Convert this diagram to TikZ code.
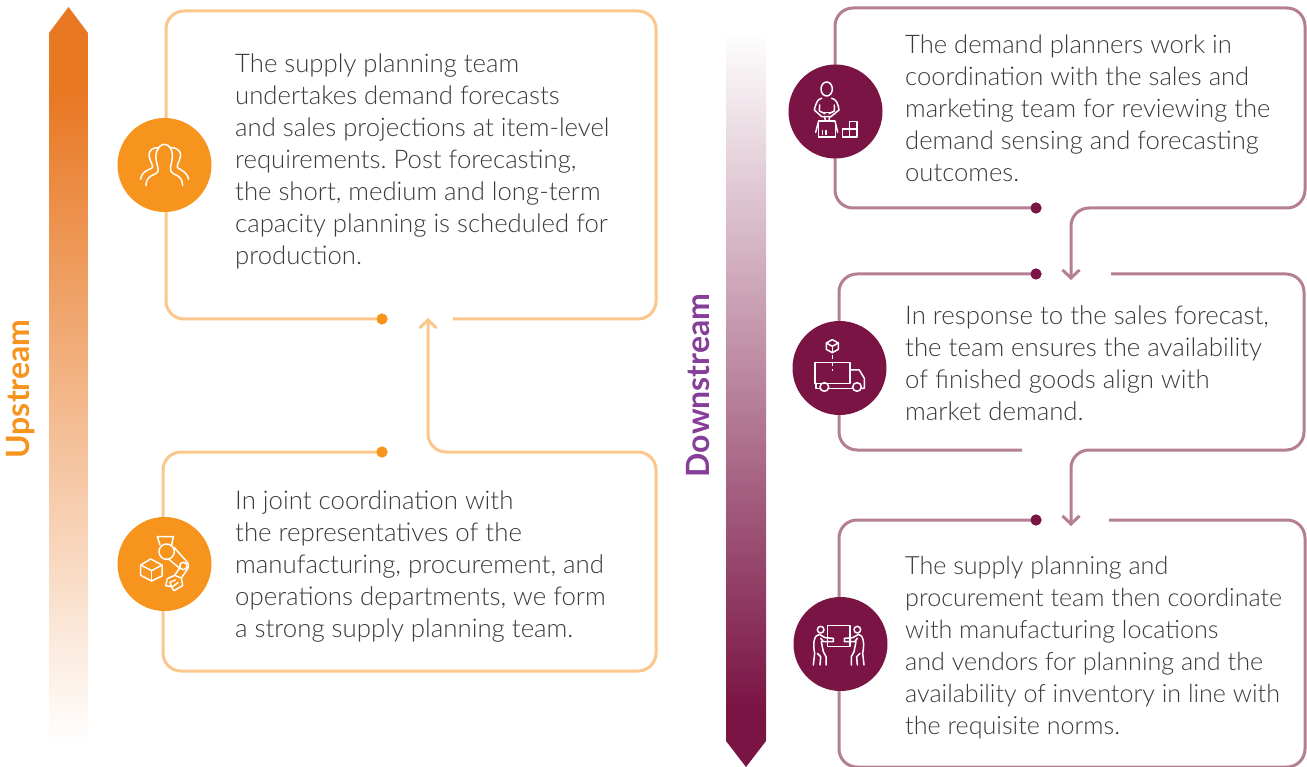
\documentclass[tikz,border=0pt]{standalone}
\usepackage{fontspec}
\setmainfont{Lato}[UprightFont={* Light},BoldFont={* Bold}]
\usetikzlibrary{arrows.meta}
\frenchspacing
\definecolor{orangeC}{HTML}{F7941D}
\definecolor{orangeL}{HTML}{FCC78C}
\definecolor{orangeA}{HTML}{E87722}
\definecolor{plumC}{HTML}{7A1444}
\definecolor{plumL}{HTML}{B47F95}
\definecolor{textC}{HTML}{3A3A3A}
\definecolor{upT}{HTML}{F7941D}
\definecolor{downT}{HTML}{863F98}
\pgfdeclareverticalshading{upshadeb}{100bp}{color(0bp)=(white); color(25bp)=(white); color(69.4bp)=(orangeA); color(100bp)=(orangeA)}
\pgfdeclareverticalshading{downshade}{100bp}{color(0bp)=(plumC); color(29bp)=(plumC); color(75bp)=(white); color(100bp)=(white)}
\tikzset{
  x=1pt,y=-1pt,
  lineL/.style={draw=orangeL,line width=3pt,rounded corners=18pt},
  lineP/.style={draw=plumL,line width=3pt,rounded corners=18pt},
  dotL/.style={circle,fill=orangeC,minimum size=11pt,inner sep=0pt},
  dotP/.style={circle,fill=plumC,minimum size=11pt,inner sep=0pt},
  iconL/.style={circle,fill=orangeC,minimum size=94pt,inner sep=0pt},
  iconP/.style={circle,fill=plumC,minimum size=94pt,inner sep=0pt},
  body/.style={anchor=north west,align=left,inner sep=0pt,text=textC,font=\fontsize{#1}{32}\selectfont},
  side/.style={rotate=90,inner sep=0pt,font=\fontsize{32}{36}\selectfont\bfseries},
  glyph/.style={draw=white,line width=1.5pt,line join=round,line cap=round},
  barbtip/.style={-{Straight Barb[length=8pt,width=17pt,line width=3pt]}}
}
\begin{document}
\begin{tikzpicture}
\useasboundingbox[fill=white] (0,0) rectangle (1307,767);

% gradient bars
\shade[shading=upshadeb] (68.5,7) -- (88,33) -- (88,745) -- (49,745) -- (49,33) -- cycle;
\shade[shading=downshade] (726,30) -- (766,30) -- (766,741) -- (746,767) -- (726,741) -- cycle;
\node[side,text=upT] (upl) at (20.5,389) {Upstream};
\node[side,text=downT] (dnl) at (698.5,385.5) {Downstream};

% left boxes
\node[dotL] (d1) at (382,319) {};
\node[dotL] (d2) at (382,452) {};
\coordinate (a1) at (166,319); \coordinate (a2) at (166,11);
\coordinate (a3) at (656,11);  \coordinate (a4) at (656,319);
\coordinate (a5) at (453,319);
\draw[lineL] (d1.center) -- (a1) -- (a2) -- (a3) -- (a4) -- (a5);
\coordinate (b1) at (163,452); \coordinate (b2) at (163,671);
\coordinate (b3) at (656,671); \coordinate (b4) at (656,452);
\coordinate (b5) at (428,452); \coordinate (b6) at (428,318);
\draw[lineL,barbtip] (d2.center) -- (b1) -- (b2) -- (b3) -- (b4) -- (b5) -- (b6);
\node[dotL] at (d1.center) {};
\node[dotL] at (d2.center) {};

% right boxes
\node[dotP] (d3) at (1036,208) {};
\node[dotP] (d4) at (1036,274) {};
\node[dotP] (d5) at (1036,520) {};
\coordinate (c1) at (835,208); \coordinate (c2) at (835,8);
\coordinate (c3) at (1305,8);  \coordinate (c4) at (1305,208);
\coordinate (c5) at (1071,208); \coordinate (c6) at (1071,280);
\draw[lineP,barbtip] (d3.center) -- (c1) -- (c2) -- (c3) -- (c4) -- (c5) -- (c6);
\coordinate (e1) at (839,274); \coordinate (e2) at (839,450); \coordinate (e3) at (1022,450);
\draw[lineP] (d4.center) -- (e1) -- (e2) -- (e3);
\coordinate (e4) at (1111,274); \coordinate (e5) at (1304,274); \coordinate (e6) at (1304,450);
\coordinate (e7) at (1071,450); \coordinate (e8) at (1071,526);
\draw[lineP,barbtip] (e4) -- (e5) -- (e6) -- (e7) -- (e8);
\coordinate (f1) at (839,767); \coordinate (f2) at (839,520); \coordinate (f3) at (1109,520);
\coordinate (f4) at (1305,520); \coordinate (f5) at (1305,767);
\draw[lineP] (d5.center) -- (f2) -- (f1) -- (f5) -- (f4) -- (f3);
\node[dotP] at (d3.center) {};
\node[dotP] at (d4.center) {};
\node[dotP] at (d5.center) {};

% icon discs
\node[iconL] (i1) at (164.5,165) {};
\node[iconL] (i2) at (164.5,564) {};
\node[iconP] (i3) at (835.5,111.5) {};
\node[iconP] (i4) at (839.5,368) {};
\node[iconP] (i5) at (840.5,644) {};

% people icon
\begin{scope}[shift={(100,100)},scale=1/3]
\draw[glyph] (138,257) .. controls (138,235) and (150,228) .. (165,222) .. controls (187,212) and (165,195) .. (168,165) .. controls (170,142) and (185,133) .. (193,133) .. controls (208,133) and (218,150) .. (217,165) .. controls (218,195) and (200,210) .. (222,222) .. controls (238,228) and (248,238) .. (248,257);
\draw[glyph] (122,238) .. controls (125,215) and (140,212) .. (155,205) .. controls (165,200) and (148,185) .. (147,165) .. controls (147,150) and (160,142) .. (175,143);
\draw[glyph] (266,238) .. controls (262,220) and (250,213) .. (235,205) .. controls (225,200) and (240,185) .. (242,165) .. controls (242,152) and (228,142) .. (213,143);
\end{scope}

% robot icon
\begin{scope}[shift={(100,500)},scale=1/3]
\draw[glyph] (180,135) -- (172,110) -- (220,110) -- (214,140);
\draw[glyph] (200,155) circle[radius=23];
\draw[glyph] (222,142) -- (258,182) .. controls (266,190) and (268,198) .. (262,208);
\draw[glyph] (207,178) -- (238,204);
\draw[glyph] (250,198) circle[radius=11];
\draw[glyph] (262,208) -- (244,234) -- (224,226) -- (238,205);
\draw[glyph] (224,226) -- (202,236) -- (197,257) -- (214,260) -- (210,247) -- (226,240);
\draw[glyph] (244,234) -- (248,257) -- (222,272) -- (215,262) -- (234,248);
\draw[glyph] (152,177) -- (186,195) -- (186,228) -- (155,243) -- (122,226) -- (122,195) -- cycle;
\draw[glyph] (122,195) -- (155,212) -- (186,195);
\draw[glyph] (155,212) -- (155,243);
\end{scope}

% person with boxes icon
\begin{scope}[shift={(775,55)},scale=1/3]
\draw[glyph] (155,102) ellipse[x radius=17,y radius=21];
\draw[glyph] (140,130) .. controls (128,133) and (124,140) .. (118,165) -- (140,185) -- (168,185) -- (192,165) .. controls (188,140) and (182,133) .. (170,130);
\draw[glyph] (134,150) -- (133,168) -- (150,176);
\draw[glyph] (178,150) -- (178,168) -- (162,176);
\draw[glyph] (140,172) -- (172,172);
\draw[glyph] (148,185) -- (152,198) -- (162,198) -- (164,185);
\draw[glyph] (131,198) -- (180,198) -- (188,232);
\draw[glyph] (131,198) -- (122,232);
\draw[glyph] (131,200) rectangle (182,246);
\draw[glyph] (143,227) -- (143,238);
\draw[glyph] (153,227) -- (153,238);
\draw[glyph] (203,222) rectangle (246,246);
\draw[glyph] (224,200) rectangle (246,222);
\draw[glyph] (224,222) -- (224,246);
\end{scope}

% truck icon
\begin{scope}[shift={(780,310)},scale=1/3]
\draw[glyph] (157,89) -- (175,99) -- (175,118) -- (157,128) -- (139,118) -- (139,99) -- cycle;
\draw[glyph] (139,99) -- (157,109) -- (175,99);
\draw[glyph] (157,109) -- (157,128);
\draw[glyph,line cap=butt,dash pattern=on 4pt off 3pt] (157,135) -- (157,182);
\draw[glyph] (105,220) -- (105,158) -- (210,158) -- (210,220) -- (105,220);
\draw[glyph] (210,180) -- (238,180) -- (253,205) -- (253,235) -- (245,235);
\draw[glyph] (133,231) circle[radius=13];
\draw[glyph] (231,231) circle[radius=13];
\draw[glyph] (108,220) -- (108,235) -- (120,235);
\draw[glyph] (146,235) -- (218,235);
\end{scope}

% two people carrying icon
\begin{scope}[shift={(780,585)},scale=1/3]
\draw[glyph] (143,122) rectangle (210,185);
\draw[glyph] (122,134) circle[radius=10];
\draw[glyph] (232,134) circle[radius=10];
\draw[glyph] (100,240) -- (104,205) .. controls (98,175) and (102,150) .. (118,148) -- (135,158) -- (160,160) -- (160,170) -- (130,170) -- (122,160);
\draw[glyph] (124,170) -- (130,200) -- (138,215) -- (138,240);
\draw[glyph] (112,205) -- (122,215) -- (120,240);
\draw[glyph] (252,240) -- (248,205) .. controls (254,175) and (250,150) .. (236,148) -- (218,158) -- (193,160) -- (193,170) -- (224,170) -- (232,160);
\draw[glyph] (228,170) -- (222,200) -- (214,215) -- (214,240);
\draw[glyph] (240,205) -- (230,215) -- (232,240);
\end{scope}

% texts
\node[body=25.7] (t1) at (235,54) {The supply planning team\\undertakes demand forecasts\\and sales projections at item-level\\requirements. Post forecasting,\\the short, medium and long-term\\capacity planning is scheduled for\\production.};
\node[body=25.8] (t2) at (235,491) {In joint coordination with\\the representatives of the\\manufacturing, procurement, and\\operations departments, we form\\a strong supply planning team.};
\node[body=25.6] (t3) at (905,35) {The demand planners work in\\coordination with the sales and\\marketing team for reviewing the\\demand sensing and forecasting\\outcomes.};
\node[body=25.8] (t4) at (905,306) {In response to the sales forecast,\\the team ensures the availability\\of finished goods align with\\market demand.};
\node[body=25.1] (t5) at (905,556) {The supply planning and\\procurement team then coordinate\\with manufacturing locations\\and vendors for planning and the\\availability of inventory in line with\\the requisite norms.};
\end{tikzpicture}
\end{document}
